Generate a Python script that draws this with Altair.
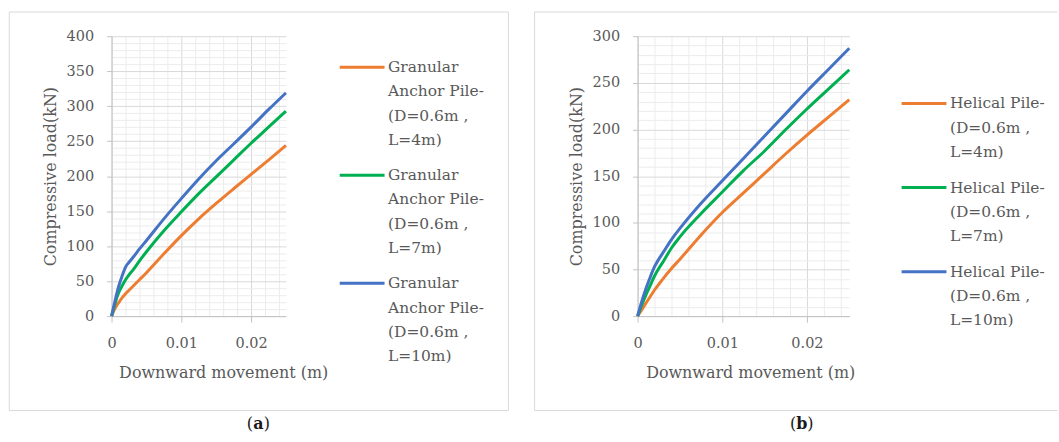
import altair as alt
import pandas as pd

# ---------------- data ----------------
x_vals = [0, 0.0005, 0.001, 0.0015, 0.002, 0.0025, 0.003, 0.004, 0.005,
          0.0075, 0.01, 0.0125, 0.015, 0.0175, 0.02, 0.0225, 0.025]

a_L4 = [0, 11, 19, 26, 32, 37, 42, 52, 62, 89, 115, 139, 161, 182, 202.5, 223, 244]
a_L7 = [0, 18, 33, 43, 52, 59, 65, 79, 92, 122, 149, 175, 199, 223, 247, 270, 293]
a_L10 = [0, 22, 42, 57, 70, 77, 83, 96, 108, 139, 168, 196, 222, 246, 270, 295, 319]

b_L4 = [0, 7, 14, 21, 28, 34, 40, 51, 61, 87, 111, 132, 153, 174, 194, 213, 232]
b_L7 = [0, 12, 23, 33, 43, 51, 58, 73, 85, 110, 133, 156, 177, 200, 222, 243, 264]
b_L10 = [0, 16, 30, 42, 53, 61, 68, 82, 94, 121, 145, 169, 193, 217, 241, 264, 287]

a_labels = ["Granular|Anchor Pile-|(D=0.6m ,|L=4m)",
            "Granular|Anchor Pile-|(D=0.6m ,|L=7m)",
            "Granular|Anchor Pile-|(D=0.6m ,|L=10m)"]
b_labels = ["Helical Pile-|(D=0.6m ,|L=4m)",
            "Helical Pile-|(D=0.6m ,|L=7m)",
            "Helical Pile-|(D=0.6m ,|L=10m)"]
colors = ["#ED7D31", "#00B050", "#4472C4"]

x_major = [0, 0.01, 0.02]
x_minor = [0.002, 0.004, 0.006, 0.008, 0.012, 0.014, 0.016, 0.018, 0.022, 0.024]
a_y_major = [0, 50, 100, 150, 200, 250, 300, 350, 400]
b_y_major = [0, 50, 100, 150, 200, 250, 300]
a_y_minor = [v for v in range(10, 400, 10) if v % 50 != 0]
b_y_minor = [v for v in range(10, 300, 10) if v % 50 != 0]

FONT = "DejaVu Serif"
GRAY = "#595959"
MAJOR = "#d9d9d9"
MINOR = "#ececec"
AXIS = "#c3c3c3"
BORDER = "#d9d9d9"


def long_df(series, labels):
    rows = []
    for lab, ys in zip(labels, series):
        for xv, yv in zip(x_vals, ys):
            rows.append({"x": xv, "y": yv, "series": lab})
    return pd.DataFrame(rows)


def one():
    return alt.Data(values=[{}])


def rule(x1, x2, y1, y2):
    return alt.Chart(one()).mark_rule(color=BORDER, strokeWidth=1).encode(
        x=alt.value(x1), x2=alt.value(x2), y=alt.value(y1), y2=alt.value(y2))


def txt(t, x, y, align, weight):
    return alt.Chart(one()).mark_text(
        text=t, font=FONT, fontSize=16, fontWeight=weight, align=align,
        baseline="middle", color="#1a1a1a").encode(x=alt.value(x), y=alt.value(y))


def panel(df, labels, ymax, y_major, y_minor, width, height,
          leg_x, leg_y, title_x, letter, letter_x, border):
    xs = alt.Scale(domain=[0, 0.025], nice=False, zero=True)
    ys = alt.Scale(domain=[0, ymax], nice=False)

    minor = alt.Chart(df).mark_line(opacity=0).encode(
        x=alt.X("x:Q", scale=xs, title="",
                axis=alt.Axis(values=x_minor, grid=True, gridColor=MINOR,
                              labels=False, ticks=False, domain=False,
                              orient="bottom")),
        y=alt.Y("y:Q", scale=ys, title="",
                axis=alt.Axis(values=y_minor, grid=True, gridColor=MINOR,
                              labels=False, ticks=False, domain=False,
                              orient="left")),
        detail="series:N",
    )

    lines = alt.Chart(df).mark_line(strokeWidth=3, interpolate="monotone").encode(
        x=alt.X("x:Q", scale=xs, title="Downward movement (m)",
                axis=alt.Axis(values=x_major, format="~g", grid=True,
                              gridColor=MAJOR, orient="bottom", tickSize=6,
                              labelPadding=14, titlePadding=15,
                              labelFlush=False, titleX=title_x)),
        y=alt.Y("y:Q", scale=ys, title="Compressive load(kN)",
                axis=alt.Axis(values=y_major, grid=True, gridColor=MAJOR,
                              orient="left", tickSize=5, labelPadding=13,
                              titlePadding=8, labelFlush=False)),
        color=alt.Color(
            "series:N",
            scale=alt.Scale(domain=labels, range=colors),
            legend=alt.Legend(
                title=None, orient="none", legendX=leg_x, legendY=leg_y,
                symbolType="stroke", symbolSize=2025, symbolStrokeWidth=3,
                labelExpr="split(datum.label, '|')", labelFont=FONT,
                labelFontSize=15.5, labelColor=GRAY, labelLimit=300,
                labelOffset=2, rowPadding=2.5, padding=0)),
    )

    l, r, t, b = border
    deco = [rule(l, r, t, t), rule(l, r, b, b), rule(l, l, t, b)]
    if r < 410:
        deco.append(rule(r, r, t, b))
    ly = 389
    deco += [txt("(", letter_x - 5.5, ly, "right", "normal"),
             txt(letter, letter_x, ly, "center", "bold"),
             txt(")", letter_x + 5.5, ly, "left", "normal")]

    return alt.layer(minor, lines, *deco).resolve_axis(
        x="independent", y="independent").properties(width=width, height=height)


df_a = long_df([a_L4, a_L7, a_L10], a_labels)
df_b = long_df([b_L4, b_L7, b_L10], b_labels)

pa = panel(df_a, a_labels, 400, a_y_major, a_y_minor, 175, 281,
           227.5, 7.1, 112, "a", 147.3, (-102.7, 398.3, -24.3, 375.7))
pb = panel(df_b, b_labels, 300, b_y_major, b_y_minor, 212.5, 281,
           263.5, 43.5, 113, "b", 164.8, (-103.4, 421.5, -24.3, 375.7))

chart = alt.hconcat(pa, pb, spacing=23).resolve_scale(
    color="independent").properties(
    padding={"left": 8, "top": 9.5, "right": 0, "bottom": 0},
    background="white",
).configure(
    style={"guide-label": {"lineHeight": 24.3}}
).configure_axis(
    labelFont=FONT, titleFont=FONT, labelColor=GRAY, titleColor=GRAY,
    labelFontSize=14.5, titleFontSize=16, titleFontWeight="normal",
    domainColor=AXIS, tickColor=AXIS, gridWidth=1,
).configure_view(stroke="transparent")

chart.save("out.html", embed_options={"renderer": "svg", "actions": False})
